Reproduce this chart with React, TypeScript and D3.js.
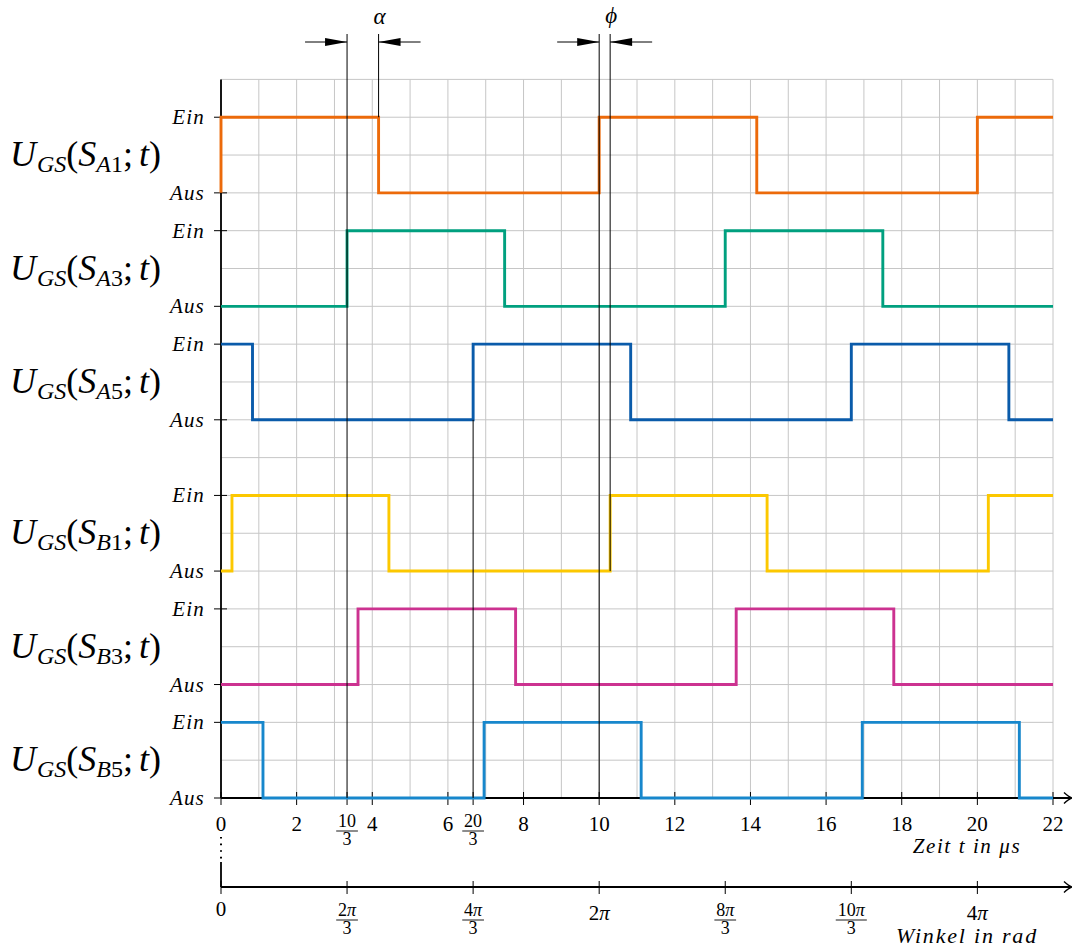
import React from 'react';
import * as d3 from 'd3';

const SERIF = '"Liberation Serif", "Times New Roman", serif';

// Switching states over time: [t in µs, 1 = Ein / 0 = Aus]
const stepsA1: [number, number][] = [[0, 0], [0, 1], [4.167, 0], [10, 1], [14.167, 0], [20, 1], [22, 1]];
const stepsA3: [number, number][] = [[0, 0], [3.333, 1], [7.5, 0], [13.333, 1], [17.5, 0], [22, 0]];
const stepsA5: [number, number][] = [[0, 1], [0.833, 0], [6.667, 1], [10.833, 0], [16.667, 1], [20.833, 0], [22, 0]];
const stepsB1: [number, number][] = [[0, 0], [0.29, 1], [4.44, 0], [10.29, 1], [14.44, 0], [20.29, 1], [22, 1]];
const stepsB3: [number, number][] = [[0, 0], [3.623, 1], [7.79, 0], [13.623, 1], [17.79, 0], [22, 0]];
const stepsB5: [number, number][] = [[0, 1], [1.11, 0], [6.957, 1], [11.11, 0], [16.957, 1], [21.11, 0], [22, 0]];

const signalNames = ['A1', 'A3', 'A5', 'B1', 'B3', 'B5'];
const signalSteps = [stepsA1, stepsA3, stepsA5, stepsB1, stepsB3, stepsB5];
const einLevels = [18, 15, 12, 8, 5, 2];
const ausLevels = [16, 13, 10, 6, 3, 0];
const signalColors = ['#EC6A0A', '#00A07F', '#0A5BAA', '#FCC800', '#CC3290', '#1787CC'];

// Time axis (µs)
const timeTicks = [0, 2, 10 / 3, 4, 6, 20 / 3, 8, 10, 12, 14, 16, 18, 20, 22];
const timeLabels = ['0', '2', '10/3', '4', '6', '20/3', '8', '10', '12', '14', '16', '18', '20', '22'];

// Angle axis (rad), placed on the matching time positions
const angleTicks = [0, 10 / 3, 20 / 3, 10, 40 / 3, 50 / 3, 20];
const angleLabels = ['0', '2π/3', '4π/3', '2π', '8π/3', '10π/3', '4π'];

// Reference lines: time, upper and lower end (grid units)
const markerTimes = [10 / 3, 4.167, 20 / 3, 10, 10.29];
const markerTops = [20.2, 20.2, 10, 20.2, 20.2];
const markerBottoms = [0, 18, 0, 0, 6];

// Dimension arrows between two reference lines
const dimLabels = ['α', 'ϕ'];
const dimFrom = [10 / 3, 10];
const dimTo = [4.167, 10.29];

function Frac({ cx, base, num, den, size }: { cx: number; base: number; num: string; den: string; size: number }) {
  const w = Math.max(num.length, den.length) * size * 0.52 + 3;
  return (
    <g fontFamily={SERIF} fontSize={size} textAnchor="middle" fill="#000">
      <text x={cx} y={base}>
        {num.split('').map((c, i) => (
          <tspan key={i} fontStyle={c === 'π' ? 'italic' : 'normal'}>{c}</tspan>
        ))}
      </text>
      <line x1={cx - w / 2} x2={cx + w / 2} y1={base + 4} y2={base + 4} stroke="#000" strokeWidth={0.9} />
      <text x={cx} y={base + 18}>{den}</text>
    </g>
  );
}

function TickLabel({ cx, base, label, size }: { cx: number; base: number; label: string; size: number }) {
  if (label.includes('/')) {
    const [n, d] = label.split('/');
    return <Frac cx={cx} base={base - 4} num={n} den={d} size={18} />;
  }
  return (
    <text x={cx} y={base} fontFamily={SERIF} fontSize={size} textAnchor="middle">
      {label.split('').map((c, i) => (
        <tspan key={i} fontStyle={c === 'π' ? 'italic' : 'normal'}>{c}</tspan>
      ))}
    </text>
  );
}

function SignalLabel({ x0, base, name }: { x0: number; base: number; name: string }) {
  const sub = 6;
  return (
    <text x={x0} y={base} fontFamily={SERIF} fontSize={36} fill="#000">
      <tspan fontStyle="italic">U</tspan>
      <tspan fontStyle="italic" fontSize={24} dy={sub} dx={1}>GS</tspan>
      <tspan dy={-sub}>(</tspan>
      <tspan fontStyle="italic">S</tspan>
      <tspan fontStyle="italic" fontSize={24} dy={sub}>{name[0]}</tspan>
      <tspan fontSize={24}>{name.slice(1)}</tspan>
      <tspan dy={-sub}>;</tspan>
      <tspan fontStyle="italic" dx={6}>t</tspan>
      <tspan>)</tspan>
    </text>
  );
}

export default function App() {
  const x = d3.scaleLinear().domain([0, 22]).range([221, 1053]);
  const y = d3.scaleLinear().domain([0, 19]).range([798, 79.4]);

  const gridX = d3.range(0, 23);
  const gridY = d3.range(0, 20);

  const axisY = y(0);
  const angleAxisY = 887;
  const x0 = x(0);
  const arrowEnd = 1072;

  const chevron = (tx: number, ty: number) =>
    `M${tx - 8},${ty - 5.5} Q${tx - 3},${ty - 1} ${tx},${ty} Q${tx - 3},${ty + 1} ${tx - 8},${ty + 5.5}`;

  const dimY = 42;
  const dimLen = 42;

  return (
    <svg width={1072} height={949} style={{ position: 'absolute', left: 0, top: 0, background: '#fff' }}>
      {/* grid */}
      <g stroke="#c6c6c6" strokeWidth={1}>
        {gridX.map((t) => (
          <line key={'gx' + t} x1={x(t)} x2={x(t)} y1={y(0)} y2={y(19)} />
        ))}
        {gridY.map((v) => (
          <line key={'gy' + v} x1={x(0)} x2={x(22)} y1={y(v)} y2={y(v)} />
        ))}
      </g>

      {/* vertical axis */}
      <line x1={x0} x2={x0} y1={y(19)} y2={axisY} stroke="#000" strokeWidth={1.8} />

      {/* Ein / Aus ticks and labels */}
      {signalNames.map((n, i) => (
        <g key={'lv' + n}>
          {[einLevels[i], ausLevels[i]].map((lv, j) => (
            <g key={j}>
              <line x1={x0 - 7} x2={x0 + 6} y1={y(lv)} y2={y(lv)} stroke="#000" strokeWidth={1} />
              <text x={x0 - 16} y={y(lv) + 7} fontFamily={SERIF} fontStyle="italic" fontSize={21} letterSpacing={1.2} textAnchor="end">
                {j === 0 ? 'Ein' : 'Aus'}
              </text>
            </g>
          ))}
          <SignalLabel x0={10} base={(y(einLevels[i]) + y(ausLevels[i])) / 2 + 11} name={n} />
        </g>
      ))}

      {/* time axis */}
      <line x1={x0} x2={arrowEnd - 1} y1={axisY} y2={axisY} stroke="#000" strokeWidth={1.8} />
      <path d={chevron(arrowEnd, axisY)} fill="none" stroke="#000" strokeWidth={1.4} />
      {timeTicks.map((t, i) => (
        <g key={'tt' + i}>
          <line x1={x(t)} x2={x(t)} y1={axisY - 6} y2={axisY + 7} stroke="#000" strokeWidth={1} />
          <TickLabel cx={x(t)} base={831} label={timeLabels[i]} size={21} />
        </g>
      ))}
      <text x={967} y={853} fontFamily={SERIF} fontStyle="italic" fontSize={21} textAnchor="middle" letterSpacing={1.6}>
        Zeit  t  in  μs
      </text>

      {/* link from time axis down to angle axis */}
      <line x1={x0} x2={x0} y1={837} y2={861} stroke="#000" strokeWidth={2} strokeDasharray="1.6 5" />
      <line x1={x0} x2={x0} y1={862} y2={angleAxisY} stroke="#000" strokeWidth={1.8} />

      {/* angle axis */}
      <line x1={x0} x2={arrowEnd - 1} y1={angleAxisY} y2={angleAxisY} stroke="#000" strokeWidth={1.8} />
      <path d={chevron(arrowEnd, angleAxisY)} fill="none" stroke="#000" strokeWidth={1.4} />
      {angleTicks.map((t, i) => (
        <g key={'at' + i}>
          <line x1={x(t)} x2={x(t)} y1={angleAxisY - 6} y2={angleAxisY + 7} stroke="#000" strokeWidth={1} />
          {angleLabels[i].includes('/') ? (
            <Frac cx={x(t)} base={916} num={angleLabels[i].split('/')[0]} den={angleLabels[i].split('/')[1]} size={18} />
          ) : (
            <TickLabel cx={x(t)} base={i === 0 ? 916 : 920} label={angleLabels[i]} size={21} />
          )}
        </g>
      ))}
      <text x={967} y={943} fontFamily={SERIF} fontStyle="italic" fontSize={22} textAnchor="middle" letterSpacing={1.8}>
        Winkel  in  rad
      </text>

      {/* gate signals */}
      {signalSteps.map((steps, i) => {
        const path = d3
          .line<[number, number]>()
          .x((d) => x(d[0]))
          .y((d) => y(d[1] ? einLevels[i] : ausLevels[i]))
          .curve(d3.curveStepAfter)(steps);
        return (
          <path key={'sig' + i} d={path || ''} fill="none" stroke={signalColors[i]} strokeWidth={2.9} strokeLinejoin="miter" />
        );
      })}

      {/* reference lines */}
      {markerTimes.map((t, i) => (
        <line key={'mk' + i} x1={x(t)} x2={x(t)} y1={y(markerTops[i])} y2={y(markerBottoms[i])} stroke="#000" strokeWidth={1} />
      ))}

      {/* dimension arrows */}
      {dimLabels.map((lab, i) => {
        const a = x(dimFrom[i]);
        const b = x(dimTo[i]);
        return (
          <g key={'dim' + i}>
            <line x1={a - dimLen} x2={a} y1={dimY} y2={dimY} stroke="#000" strokeWidth={1} />
            <path d={`M${a},${dimY} L${a - 22},${dimY - 4} L${a - 22},${dimY + 4} Z`} fill="#000" />
            <line x1={b} x2={b + dimLen} y1={dimY} y2={dimY} stroke="#000" strokeWidth={1} />
            <path d={`M${b},${dimY} L${b + 22},${dimY - 4} L${b + 22},${dimY + 4} Z`} fill="#000" />
            <text x={b + 1} y={i === 0 ? 24 : 23} fontFamily={SERIF} fontStyle="italic" fontSize={23} textAnchor="middle">
              {lab}
            </text>
          </g>
        );
      })}
    </svg>
  );
}
